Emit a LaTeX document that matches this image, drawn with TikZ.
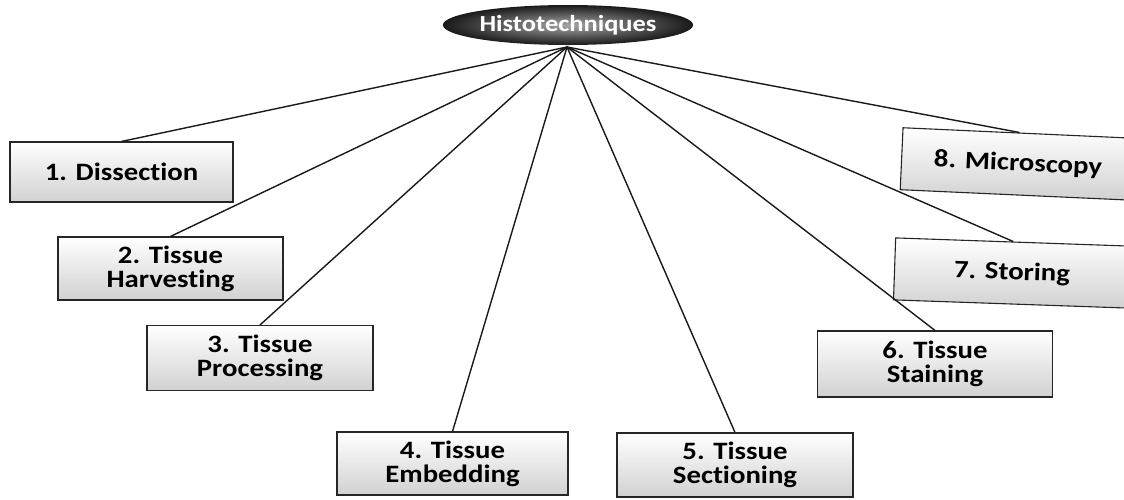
\documentclass[tikz,border=0pt]{standalone}
\usepackage{fontspec}
\newfontfamily\boxfont{Carlito}[FakeStretch=1.15, Ligatures=NoCommon]
\usetikzlibrary{shapes.geometric}
\begin{document}
\begin{tikzpicture}[x=1pt,y=-1pt,
  stepbox/.style={draw=black!85, line width=1.1pt, top color=white, bottom color=black!18,
    minimum width=226pt, minimum height=63pt, inner sep=0pt, align=center,
    font=\boxfont\bfseries\fontsize{25}{24}\selectfont},
  hubell/.style={ellipse, inner color=black!35, outer color=black!90, text=white,
    minimum width=244pt, minimum height=40pt, inner sep=0pt,
    font=\boxfont\bfseries\fontsize{23}{23}\selectfont},
  link/.style={draw=black!90, line width=1.4pt}]
\useasboundingbox (0,0) rectangle (1124,499);
\clip (0,0) rectangle (1124,499);
\node[hubell] (top) at (568,25) {Histotechniques};
\coordinate (hub) at (567,47);
\node[stepbox, minimum width=223pt, minimum height=60pt] (s1) at (121.5,172) {1. Dissection};
\node[stepbox, minimum width=225pt] (s2) at (170.5,268.5) {2. Tissue\\Harvesting};
\node[stepbox, minimum height=65pt] (s3) at (260,358) {3. Tissue\\Processing};
\node[stepbox, minimum width=231pt] (s4) at (452.5,463.5) {4. Tissue\\Embedding};
\node[stepbox, minimum width=236pt, minimum height=64pt] (s5) at (735,465) {5. Tissue\\Sectioning};
\node[stepbox, minimum width=235pt, minimum height=66pt] (s6) at (935,364) {6. Tissue\\Staining};
\node[stepbox, minimum width=235pt, minimum height=62pt, rotate=-2] (s7) at (1012,273) {7. Storing};
\node[stepbox, minimum width=233pt, minimum height=62pt, rotate=-2.6] (s8) at (1018,164) {8. Microscopy};
\foreach \n in {s1,s2,s3,s4,s5,s6,s7,s8}
  \draw[link] (hub) -- (\n.north);
\end{tikzpicture}
\end{document}
